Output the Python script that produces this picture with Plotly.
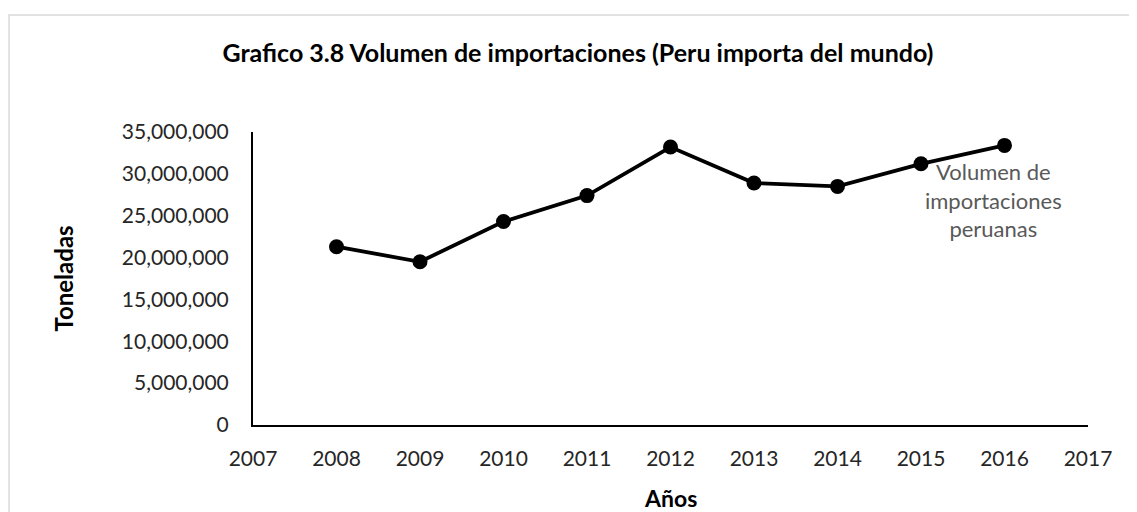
import plotly.graph_objects as go

years = [2008, 2009, 2010, 2011, 2012, 2013, 2014, 2015, 2016]
volumen = [21300000, 19500000, 24300000, 27400000, 33200000, 28900000, 28500000, 31200000, 33400000]
x_ticks = list(range(2007, 2018))
y_ticks = [0, 5000000, 10000000, 15000000, 20000000, 25000000, 30000000, 35000000]

title_text = "Grafico 3.8 Volumen de importaciones (Peru importa del mundo)"
series_label = "Volumen de<br>importaciones<br>peruanas"
x_title = "Años"
y_title = "Toneladas"

FONT = "Lato, 'Open Sans', sans-serif"
TICK_COLOR = "#262626"

fig = go.Figure()
fig.add_trace(go.Scatter(
    x=years, y=volumen, mode="lines+markers",
    line=dict(color="black", width=3.8),
    marker=dict(color="black", size=15),
    showlegend=False,
))

fig.add_annotation(
    x=years[-1], y=volumen[-1], xref="x", yref="y",
    text=series_label, showarrow=False,
    xanchor="center", yanchor="top", yshift=-11, xshift=-11,
    font=dict(family=FONT, size=22, color="#595959"),
    align="center",
)

# axis titles
fig.add_annotation(x=-0.2275, y=0.5, xref="paper", yref="paper",
                   text="<b>" + y_title + "</b>", textangle=-90, showarrow=False,
                   xanchor="center", yanchor="middle",
                   font=dict(family=FONT, size=24, color="black"))
fig.add_annotation(x=0.5, y=-0.249, xref="paper", yref="paper",
                   text="<b>" + x_title + "</b>", showarrow=False,
                   xanchor="center", yanchor="middle",
                   font=dict(family=FONT, size=23, color="black"))

fig.add_shape(type="rect", xref="paper", yref="paper",
              x0=-0.2922, x1=1.3, y0=-0.6, y1=1.399,
              line=dict(color="#d9d9d9", width=1.5), layer="below")

fig.update_layout(
    width=1137, height=512,
    margin=dict(l=245, r=57, t=124, b=95),
    paper_bgcolor="white", plot_bgcolor="white",
    title=dict(text="<b>" + title_text + "</b>", x=0.5013, xanchor="center",
               y=0.912, yanchor="middle",
               font=dict(family=FONT, size=25, color="black")),
    xaxis=dict(range=[2007, 2017], tickvals=x_ticks, ticktext=[str(v) for v in x_ticks],
               showgrid=False, zeroline=False, showline=True, linecolor="black", linewidth=2,
               ticks="outside", ticklen=14, tickcolor="rgba(0,0,0,0)",
               tickfont=dict(family=FONT, size=21, color=TICK_COLOR)),
    yaxis=dict(range=[0, 35000000], tickvals=y_ticks, tickformat=",d",
               showgrid=False, zeroline=False, showline=True, linecolor="black", linewidth=2,
               ticks="outside", ticklen=18, tickcolor="rgba(0,0,0,0)",
               tickfont=dict(family=FONT, size=21, color=TICK_COLOR)),
)

fig.write_html("out.html")
